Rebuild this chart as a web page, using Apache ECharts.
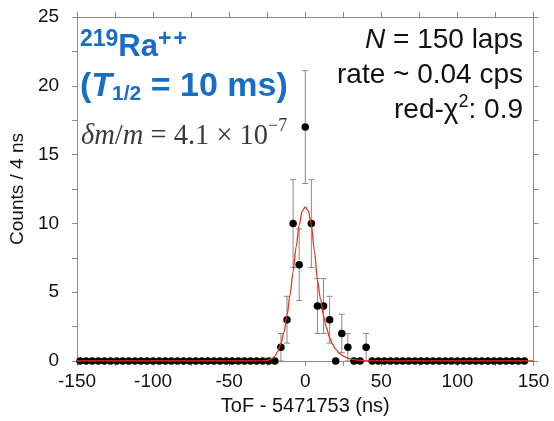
<!DOCTYPE html>
<html>
<head>
<meta charset="utf-8">
<script src="https://cdn.jsdelivr.net/npm/echarts@6/dist/echarts.min.js"></script>
<style>
  html, body { margin: 0; padding: 0; background: #fff; }
  #chart { width: 554px; height: 421px; }
</style>
</head>
<body>
<div id="chart"></div>
<script>
// time-of-flight bins (ns), 4 ns wide
const tofBins = [
  -148, -144, -140, -136, -132, -128, -124, -120, -116, -112, -108, -104, -100,
  -96, -92, -88, -84, -80, -76, -72, -68, -64, -60, -56, -52, -48, -44, -40,
  -36, -32, -28, -24, -20, -16, -12, -8, -4, 0, 4, 8, 12, 16, 20, 24, 28, 32,
  36, 40, 44, 48, 52, 56, 60, 64, 68, 72, 76, 80, 84, 88, 92, 96, 100, 104,
  108, 112, 116, 120, 124, 128, 132, 136, 140, 144
]
const counts = [
  0, 0, 0, 0, 0, 0, 0, 0, 0, 0, 0, 0, 0,
  0, 0, 0, 0, 0, 0, 0, 0, 0, 0, 0, 0, 0, 0, 0,
  0, 0, 0, 0, 0, 1, 3, 10, 7, 17, 10, 4, 4, 3, 0, 2, 1, 0,
  0, 1, 0, 0, 0, 0, 0, 0, 0, 0, 0, 0, 0, 0, 0, 0, 0, 0,
  0, 0, 0, 0, 0, 0, 0, 0, 0, 0
]

// error bars (only bins with counts)
const errBins = [-16, -12, -8, -4, 0, 4, 8, 12, 16, 24, 28, 40]
const errHalf = [1, 1.7, 3.2, 2.6, 4.1, 3.2, 2, 2, 1.7, 1.4, 1, 1]

// fitted curve
const fitX = [-150, -40, -30, -28, -26, -24, -22, -20, -18, -16, -14, -12, -10, -8, -6, -4, -2,
  0, 2, 4, 6, 8, 10, 12, 14, 16, 18, 20, 22, 24, 26, 28, 30, 32, 34, 36, 38, 40, 44, 50, 150]
const fitY = [0, 0, 0.003, 0.008, 0.025, 0.07, 0.17, 0.36, 0.7, 1.25, 2.1, 3.3, 4.8, 6.5, 8.3, 9.9, 10.9,
  11.2, 10.9, 9.9, 8.0, 5.9, 4.5, 3.3, 2.4, 1.7, 1.2, 0.85, 0.6, 0.42, 0.3, 0.2, 0.14, 0.1, 0.07, 0.05, 0.035, 0.02, 0.01, 0, 0]

const xTicks = { min: -150, max: 150, interval: 50 }
const yTicks = { min: 0, max: 25, interval: 5 }

const SANS = '"Liberation Sans", Arial, sans-serif'
const SERIF = '"Liberation Serif", "Times New Roman", serif'
const axisGray = '#8c8c8c'
const blue = '#1a6dc5'

const chart = echarts.init(document.getElementById('chart'))

// text runs with super/subscripts
const mctx = document.createElement('canvas').getContext('2d')
function fontOf(p) {
  return (p.italic ? 'italic ' : '') + (p.bold ? 'bold ' : '') + p.size + 'px ' + (p.family || SANS)
}
function textRun(x, baseline, pieces, color, align) {
  const widths = pieces.map((p) => {
    mctx.font = fontOf(p)
    return mctx.measureText(p.text).width + (p.gap || 0)
  })
  const total = widths.reduce((a, b) => a + b, 0)
  let cx = align === 'right' ? x - total : x
  const els = []
  pieces.forEach((p, i) => {
    els.push({
      type: 'text',
      x: cx,
      y: baseline - (p.rise || 0) - 0.34 * p.size,
      style: {
        text: p.text,
        font: fontOf(p),
        fill: p.color || color,
        align: 'left',
        verticalAlign: 'middle'
      }
    })
    cx += widths[i]
  })
  return els
}

const labels = [].concat(
  textRun(80, 57.5, [
    { text: '219', size: 23, bold: true, rise: 10 },
    { text: 'Ra', size: 31, bold: true },
    { text: '+', size: 23, bold: true, rise: 10, gap: 2 },
    { text: '+', size: 23, bold: true, rise: 10 }
  ], blue),
  textRun(80, 98, [
    { text: '(', size: 34, bold: true },
    { text: 'T', size: 34, bold: true, italic: true },
    { text: '1/2', size: 21, bold: true, rise: -3 },
    { text: ' = 10 ms)', size: 34, bold: true }
  ], blue),
  textRun(81, 146.5, [
    { text: 'δm', size: 28.5, italic: true, family: SERIF },
    { text: '/', size: 28.5, family: SERIF },
    { text: 'm', size: 28.5, italic: true, family: SERIF },
    { text: ' = 4.1 × 10', size: 28.5, family: SERIF },
    { text: '−7', size: 18, family: SERIF, rise: 14 }
  ], '#3a3a3a'),
  textRun(523, 50, [
    { text: 'N', size: 28, italic: true },
    { text: ' = 150 laps', size: 28 }
  ], '#111', 'right'),
  textRun(523, 85, [
    { text: 'rate ~ 0.04 cps', size: 28 }
  ], '#111', 'right'),
  textRun(523, 119.5, [
    { text: 'red-χ', size: 28 },
    { text: '2', size: 18, rise: 11 },
    { text: ': 0.9', size: 28 }
  ], '#111', 'right')
)

function axisBase(ticks) {
  return {
    type: 'value',
    min: ticks.min,
    max: ticks.max,
    interval: ticks.interval,
    axisLine: { show: true, onZero: false, lineStyle: { color: axisGray, width: 1 } },
    axisTick: { show: true, length: 5, lineStyle: { color: axisGray } },
    minorTick: { show: true, splitNumber: 2, length: 5, lineStyle: { color: axisGray } },
    splitLine: { show: false },
    minorSplitLine: { show: false }
  }
}

const option = {
  animation: false,
  grid: { left: 74, right: 20.5, top: 17, bottom: 59 },
  xAxis: [
    Object.assign(axisBase(xTicks), {
      position: 'bottom',
      axisLabel: { fontSize: 19, color: '#111', margin: 11, fontFamily: SANS },
      name: 'ToF - 5471753 (ns)',
      nameLocation: 'middle',
      nameGap: 35,
      nameTextStyle: { fontSize: 20, color: '#111', fontFamily: SANS }
    }),
    Object.assign(axisBase(xTicks), { position: 'top', axisLabel: { show: false } })
  ],
  yAxis: [
    Object.assign(axisBase(yTicks), {
      position: 'left',
      axisLabel: { fontSize: 19, color: '#111', margin: 18, fontFamily: SANS },
      name: 'Counts / 4 ns',
      nameLocation: 'middle',
      nameGap: 34,
      nameTextStyle: { fontSize: 19, color: '#111', fontFamily: SANS }
    }),
    Object.assign(axisBase(yTicks), { position: 'right', axisLabel: { show: false } })
  ],
  graphic: labels,
  series: [
    {
      // error bars
      type: 'custom',
      xAxisIndex: 0,
      yAxisIndex: 0,
      z: 2,
      data: errBins.map((b, i) => {
        const c = counts[tofBins.indexOf(b)]
        return [b, c - errHalf[i], c + errHalf[i]]
      }),
      renderItem: function (params, api) {
        const lo = api.coord([api.value(0), api.value(1)])
        const hi = api.coord([api.value(0), api.value(2)])
        const style = { stroke: '#8a8a8a', lineWidth: 1 }
        return {
          type: 'group',
          children: [
            { type: 'line', shape: { x1: lo[0], y1: lo[1], x2: hi[0], y2: hi[1] }, style: style },
            { type: 'line', shape: { x1: lo[0] - 3, y1: lo[1], x2: lo[0] + 3, y2: lo[1] }, style: style },
            { type: 'line', shape: { x1: hi[0] - 3, y1: hi[1], x2: hi[0] + 3, y2: hi[1] }, style: style }
          ]
        }
      }
    },
    {
      type: 'scatter',
      xAxisIndex: 0,
      yAxisIndex: 0,
      z: 3,
      symbolSize: 7.5,
      itemStyle: { color: '#000', opacity: 1 },
      data: tofBins.map((b, i) => [b, counts[i]])
    },
    {
      type: 'line',
      xAxisIndex: 0,
      yAxisIndex: 0,
      z: 4,
      showSymbol: false,
      smooth: 0.3,
      smoothMonotone: 'x',
      lineStyle: { color: '#e8341c', width: 1.3 },
      data: fitX.map((x, i) => [x, fitY[i]])
    }
  ]
}

chart.setOption(option)
</script>
</body>
</html>
